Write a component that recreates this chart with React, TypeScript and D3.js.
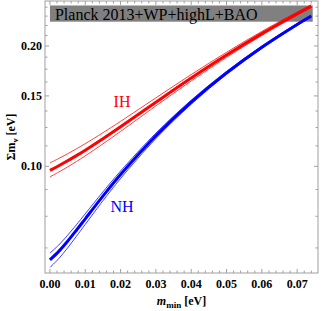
import React, { useEffect, useRef } from 'react';
import * as d3 from 'd3';

// lightest neutrino mass [eV]
const mMin = [0, 0.0025, 0.005, 0.0075, 0.01, 0.015, 0.02, 0.03, 0.04, 0.05, 0.06, 0.07, 0.074];

// normal hierarchy, sum of masses [eV]
const nhCentral = [0.05836, 0.06128, 0.06495, 0.06922, 0.07392, 0.08423, 0.09537, 0.11928, 0.14472, 0.17124, 0.19853, 0.22638, 0.23765];
const nhUpper = [0.06067, 0.06357, 0.06721, 0.07143, 0.07609, 0.0863, 0.09734, 0.12107, 0.14635, 0.17271, 0.19985, 0.22758, 0.2388];
const nhLower = [0.05585, 0.05878, 0.0625, 0.06682, 0.07158, 0.082, 0.09323, 0.11734, 0.14298, 0.16968, 0.19712, 0.22511, 0.23642];

// inverted hierarchy
const ihCentral = [0.09772, 0.10035, 0.10323, 0.10637, 0.10975, 0.11722, 0.12559, 0.14467, 0.16629, 0.18982, 0.21476, 0.24073, 0.25135];
const ihUpper = [0.10199, 0.10461, 0.10748, 0.11058, 0.11393, 0.12131, 0.12955, 0.14833, 0.16962, 0.19284, 0.21749, 0.24321, 0.25374];
const ihLower = [0.09411, 0.09675, 0.09964, 0.1028, 0.10622, 0.11378, 0.12226, 0.14161, 0.16352, 0.18732, 0.21251, 0.2387, 0.24939];

// Planck bound band
const bandLabel = 'Planck 2013+WP+highL+BAO';
const bandRange = [0.23, 0.2525];
const bandX = [0, 0.0744];

const xTicks = [0, 0.01, 0.02, 0.03, 0.04, 0.05, 0.06, 0.07];
const xMinor = [0.002, 0.004, 0.006, 0.008, 0.012, 0.014, 0.016, 0.018, 0.022, 0.024, 0.026, 0.028, 0.032, 0.034, 0.036, 0.038,
  0.042, 0.044, 0.046, 0.048, 0.052, 0.054, 0.056, 0.058, 0.062, 0.064, 0.066, 0.068, 0.072, 0.074];
const yTicks = [0.1, 0.15, 0.2];
const yMinor = [0.0625, 0.075, 0.0875, 0.1125, 0.125, 0.1375, 0.1625, 0.175, 0.1875, 0.2125, 0.225, 0.2375, 0.25];

const W = 322;
const H = 311;
const FONT = '"Liberation Serif", "Times New Roman", serif';

const App = () => {
  const svgRef = useRef(null);

  useEffect(() => {
    const svg = d3.select(svgRef.current);
    svg.selectAll('*').remove();

    const frame = { left: 45, right: 318, top: 1, bottom: 273 };

    const x = d3.scaleLinear()
      .domain([-0.0014, 0.0759])
      .range([frame.left, frame.right]);
    const y = d3.scaleLog()
      .domain([0.0541, 0.2591])
      .range([frame.bottom, frame.top]);

    // gray band
    svg.append('rect')
      .attr('x', x(bandX[0]))
      .attr('width', x(bandX[1]) - x(bandX[0]))
      .attr('y', y(bandRange[1]))
      .attr('height', y(bandRange[0]) - y(bandRange[1]))
      .attr('fill', '#808080');
    svg.append('text')
      .attr('x', x(bandX[0]) + 5)
      .attr('y', y(bandRange[0]) - 1.5)
      .attr('font-family', FONT)
      .attr('font-size', 16)
      .attr('fill', '#000')
      .text(bandLabel);

    const line = d3.line()
      .x(d => x(d[0]))
      .y(d => y(d[1]))
      .curve(d3.curveCatmullRom);

    const series = [
      { v: nhUpper, c: '#0000ff', w: 1, o: 0.75 },
      { v: nhLower, c: '#0000ff', w: 1, o: 0.75 },
      { v: ihUpper, c: '#ff0000', w: 1, o: 0.75 },
      { v: ihLower, c: '#ff0000', w: 1, o: 0.75 },
      { v: nhCentral, c: '#0000ff', w: 3, o: 1 },
      { v: ihCentral, c: '#ff0000', w: 3, o: 1 },
    ];
    series.forEach(s => {
      svg.append('path')
        .attr('d', line(mMin.map((m, i) => [m, s.v[i]])))
        .attr('fill', 'none')
        .attr('stroke', s.c)
        .attr('stroke-width', s.w)
        .attr('stroke-opacity', s.o);
    });

    // frame
    svg.append('rect')
      .attr('x', frame.left)
      .attr('y', frame.top)
      .attr('width', frame.right - frame.left)
      .attr('height', frame.bottom - frame.top)
      .attr('fill', 'none')
      .attr('stroke', '#a0a0a0')
      .attr('stroke-width', 1);

    const tickColor = '#a0a0a0';
    const xt = [...xTicks.map(t => [t, 4]), ...xMinor.map(t => [t, 2.5])];
    xt.forEach(([t, len]) => {
      svg.append('line')
        .attr('x1', x(t)).attr('x2', x(t))
        .attr('y1', frame.bottom).attr('y2', frame.bottom - len)
        .attr('stroke', tickColor);
      svg.append('line')
        .attr('x1', x(t)).attr('x2', x(t))
        .attr('y1', frame.top).attr('y2', frame.top + len)
        .attr('stroke', tickColor);
    });
    const yt = [...yTicks.map(t => [t, 4]), ...yMinor.map(t => [t, 2.5])];
    yt.forEach(([t, len]) => {
      svg.append('line')
        .attr('y1', y(t)).attr('y2', y(t))
        .attr('x1', frame.left).attr('x2', frame.left + len)
        .attr('stroke', tickColor);
      svg.append('line')
        .attr('y1', y(t)).attr('y2', y(t))
        .attr('x1', frame.right).attr('x2', frame.right - len)
        .attr('stroke', tickColor);
    });

    // tick labels
    svg.selectAll('text.xl')
      .data(xTicks)
      .enter()
      .append('text')
      .attr('class', 'xl')
      .attr('x', d => x(d))
      .attr('y', frame.bottom + 15)
      .attr('text-anchor', 'middle')
      .attr('font-family', FONT)
      .attr('font-weight', 'bold')
      .attr('font-size', 12)
      .text(d => d3.format('.2f')(d));
    svg.selectAll('text.yl')
      .data(yTicks)
      .enter()
      .append('text')
      .attr('class', 'yl')
      .attr('x', frame.left - 3)
      .attr('y', d => y(d) + 4)
      .attr('text-anchor', 'end')
      .attr('font-family', FONT)
      .attr('font-weight', 'bold')
      .attr('font-size', 12)
      .text(d => d3.format('.2f')(d));

    // axis titles
    const xl = svg.append('text')
      .attr('x', (frame.left + frame.right) / 2)
      .attr('y', 305)
      .attr('text-anchor', 'middle')
      .attr('font-family', FONT)
      .attr('font-weight', 'bold')
      .attr('font-size', 12);
    xl.append('tspan').attr('font-style', 'italic').text('m');
    xl.append('tspan').attr('font-size', 9).attr('dy', 2.5).text('min');
    xl.append('tspan').attr('dy', -2.5).text(' [eV]');

    const yl = svg.append('text')
      .attr('transform', `translate(15,${(frame.top + frame.bottom) / 2}) rotate(-90)`)
      .attr('text-anchor', 'middle')
      .attr('font-family', FONT)
      .attr('font-weight', 'bold')
      .attr('font-size', 12);
    yl.append('tspan').text('Σm');
    yl.append('tspan').attr('font-size', 9).attr('dy', 2.5).text('ν');
    yl.append('tspan').attr('dy', -2.5).text(' [eV]');

    // hierarchy labels
    svg.append('text')
      .attr('x', 122).attr('y', 107)
      .attr('text-anchor', 'middle')
      .attr('font-family', FONT)
      .attr('font-size', 16)
      .attr('fill', '#ff0000')
      .text('IH');
    svg.append('text')
      .attr('x', 122).attr('y', 211.5)
      .attr('text-anchor', 'middle')
      .attr('font-family', FONT)
      .attr('font-size', 16)
      .attr('fill', '#0000ff')
      .text('NH');
  }, []);

  return (
    <svg ref={svgRef} width={W} height={H}
      style={{ position: 'absolute', left: 0, top: 0, background: '#fff' }} />
  );
};

export default App;
